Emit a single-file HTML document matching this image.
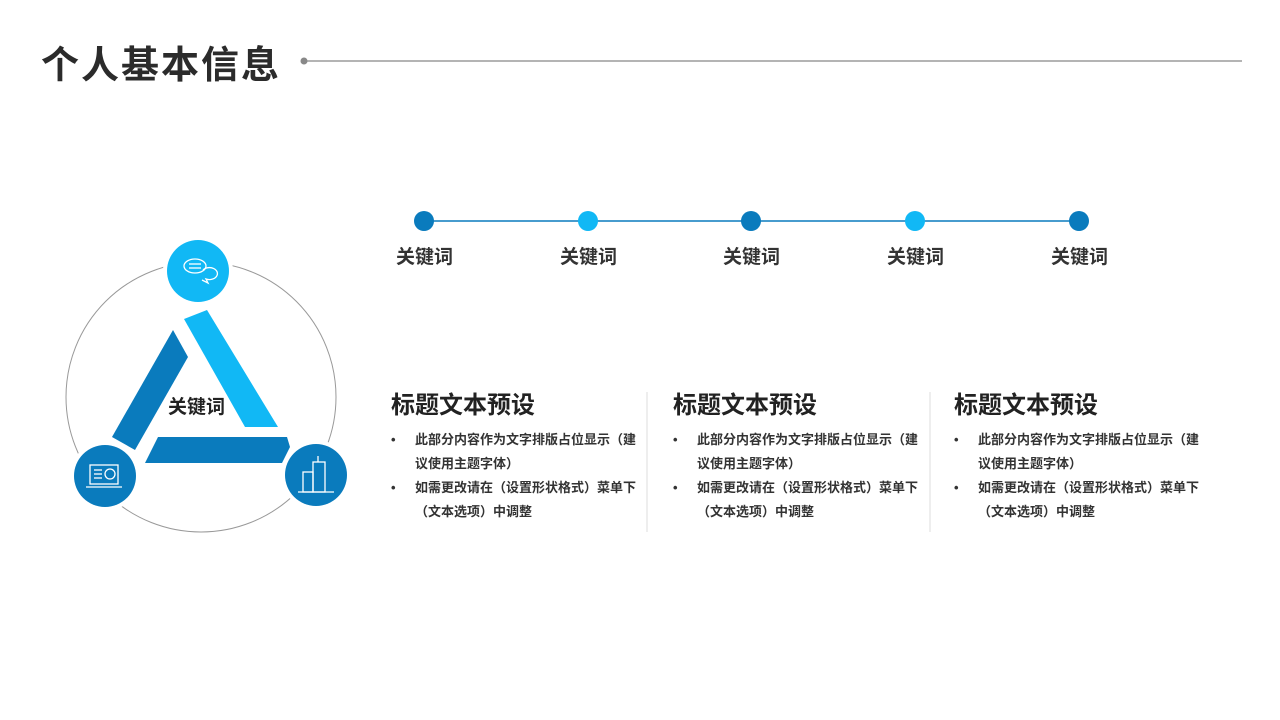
<!DOCTYPE html>
<html><head><meta charset="utf-8"><style>
body{margin:0;width:1280px;height:720px;background:#fff;position:relative;overflow:hidden;font-family:"Liberation Sans","Noto Sans CJK SC",sans-serif;color:#333}
.a{position:absolute;white-space:nowrap}
.t{font-size:24px;font-weight:bold;color:#222}
.b{font-size:13px;font-weight:bold;line-height:24px;color:#333}
.k{font-size:19px;font-weight:bold;top:242px}
</style></head><body>
<div class="a" style="left:41px;top:34px;font-size:38px;font-weight:bold;color:#2b2b2b;letter-spacing:2px">个人基本信息</div>
<svg class="a" style="left:0;top:0" width="1280" height="720">
<line x1="304" y1="61" x2="1242" y2="61" stroke="#888" stroke-width="1.2"/>
<circle cx="304" cy="61" r="3.5" fill="#888"/>
<line x1="424" y1="221" x2="1079" y2="221" stroke="#0a7bbd" stroke-width="1.5"/>
<circle cx="424" cy="221" r="10" fill="#0a7bbd"/>
<circle cx="588" cy="221" r="10" fill="#11b8f5"/>
<circle cx="751" cy="221" r="10" fill="#0a7bbd"/>
<circle cx="915" cy="221" r="10" fill="#11b8f5"/>
<circle cx="1079" cy="221" r="10" fill="#0a7bbd"/>
<line x1="647" y1="392" x2="647" y2="532" stroke="#ddd"/>
<line x1="930" y1="392" x2="930" y2="532" stroke="#ddd"/>
<circle cx="201" cy="397" r="135" fill="none" stroke="#999" stroke-width="1"/>
<polygon points="184,319 207,310 278,427 245,427" fill="#11b8f5"/>
<polygon points="173,330 188,357 135,450 112,437" fill="#0a7bbd"/>
<polygon points="158,437 287,437 290,447 282,463 145,463" fill="#0a7bbd"/>
<circle cx="198" cy="271" r="35" fill="#fff"/>
<circle cx="198" cy="271" r="31" fill="#11b8f5"/>
<circle cx="105" cy="476" r="35" fill="#fff"/>
<circle cx="105" cy="476" r="31" fill="#0a7bbd"/>
<circle cx="316" cy="475" r="35" fill="#fff"/>
<circle cx="316" cy="475" r="31" fill="#0a7bbd"/>
<g fill="none" stroke="#fff" stroke-width="1.3">
<ellipse cx="195" cy="266" rx="11" ry="7"/><line x1="189" y1="264" x2="201" y2="264"/><line x1="189" y1="268" x2="201" y2="268"/>
<path d="M203,270 a8,6 0 1 1 3,9 l2,4 l-6,-3"/>
<rect x="90" y="465" width="28" height="19"/><line x1="86" y1="487" x2="122" y2="487"/>
<circle cx="110" cy="474" r="5"/><line x1="94" y1="470" x2="102" y2="470"/><line x1="94" y1="474" x2="102" y2="474"/><line x1="94" y1="478" x2="102" y2="478"/>
<rect x="303" y="472" width="10" height="20"/><rect x="313" y="462" width="12" height="30"/><line x1="318" y1="462" x2="318" y2="456"/><line x1="298" y1="492" x2="334" y2="492"/>
</g>
</svg>
<div class="a" style="left:168px;top:392px;font-size:19px;font-weight:bold;color:#222">关键词</div>
<div class="a k" style="left:396px">关键词</div>
<div class="a k" style="left:560px">关键词</div>
<div class="a k" style="left:723px">关键词</div>
<div class="a k" style="left:887px">关键词</div>
<div class="a k" style="left:1051px">关键词</div>

<div class="a t" style="left:391px;top:385px">标题文本预设</div>
<div class="a b" style="left:391px;top:428px">•</div><div class="a b" style="left:415px;top:428px">此部分内容作为文字排版占位显示（建<br>议使用主题字体）</div>
<div class="a b" style="left:391px;top:476px">•</div><div class="a b" style="left:415px;top:476px">如需更改请在（设置形状格式）菜单下<br>（文本选项）中调整</div>

<div class="a t" style="left:673px;top:385px">标题文本预设</div>
<div class="a b" style="left:673px;top:428px">•</div><div class="a b" style="left:697px;top:428px">此部分内容作为文字排版占位显示（建<br>议使用主题字体）</div>
<div class="a b" style="left:673px;top:476px">•</div><div class="a b" style="left:697px;top:476px">如需更改请在（设置形状格式）菜单下<br>（文本选项）中调整</div>

<div class="a t" style="left:954px;top:385px">标题文本预设</div>
<div class="a b" style="left:954px;top:428px">•</div><div class="a b" style="left:978px;top:428px">此部分内容作为文字排版占位显示（建<br>议使用主题字体）</div>
<div class="a b" style="left:954px;top:476px">•</div><div class="a b" style="left:978px;top:476px">如需更改请在（设置形状格式）菜单下<br>（文本选项）中调整</div>
</body></html>
